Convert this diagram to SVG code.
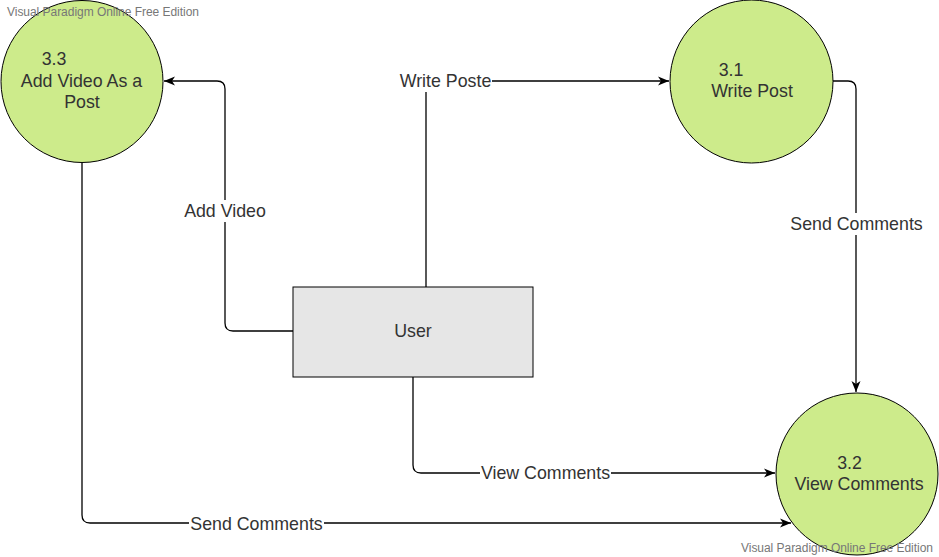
<svg xmlns="http://www.w3.org/2000/svg" width="939" height="557" viewBox="0 0 939 557">
<style>
.proc{fill:#cdeb8b;stroke:#000;stroke-width:1}
.ent{fill:#e6e6e6;stroke:#000;stroke-width:1}
.t{font-family:"Liberation Sans",Arial,sans-serif;font-size:17.8px;fill:#333;text-anchor:middle;dominant-baseline:central}
.wm{font-family:"Liberation Sans",Arial,sans-serif;font-size:12px;fill:#777;dominant-baseline:central}
.c{fill:none;stroke:#000;stroke-width:1.3}
.lb{fill:#fff}
</style>
<defs>
<marker id="arr" markerUnits="userSpaceOnUse" markerWidth="12" markerHeight="10" refX="11" refY="5" orient="auto">
<path d="M0,0.5 L11,5 L0,9.5 L3,5 Z" fill="#000"/>
</marker>
</defs>
<g id="connectors">
<path class="c" d="M293,331 H233 Q225,331 225,323 V89 Q225,81 217,81 H164" marker-end="url(#arr)"/>
<path class="c" d="M426,287 V81 H669" marker-end="url(#arr)"/>
<path class="c" d="M833,81 H848 Q856,81 856,89 V392" marker-end="url(#arr)"/>
<path class="c" d="M413,377 V465 Q413,473 421,473 H775" marker-end="url(#arr)"/>
<path class="c" d="M82,163 V515 Q82,523 90,523 H791" marker-end="url(#arr)"/>
<rect class="lb" x="182" y="200" width="85" height="22"/>
<text class="t" x="225" y="211">Add Video</text>
<rect class="lb" x="399" y="70" width="93" height="22"/>
<text class="t" x="445.5" y="81">Write Poste</text>
<rect class="lb" x="789" y="213" width="135" height="22"/>
<text class="t" x="856.5" y="224">Send Comments</text>
<rect class="lb" x="480" y="462" width="131" height="22"/>
<text class="t" x="545.5" y="473">View Comments</text>
<rect class="lb" x="189" y="513" width="135" height="22"/>
<text class="t" x="256.5" y="524">Send Comments</text>
</g>
<g id="p33">
<circle class="proc" cx="82" cy="81.5" r="81"/>
<text class="t" x="54" y="59">3.3</text>
<text class="t" x="81.5" y="81">Add Video As a</text>
<text class="t" x="82" y="102">Post</text>
</g>
<g id="p31">
<circle class="proc" cx="751.5" cy="81.5" r="81.5"/>
<text class="t" x="731" y="70">3.1</text>
<text class="t" x="752" y="91">Write Post</text>
</g>
<g id="p32">
<circle class="proc" cx="857" cy="474" r="81"/>
<text class="t" x="849.5" y="463">3.2</text>
<text class="t" x="859" y="484">View Comments</text>
</g>
<g id="user">
<rect class="ent" x="293" y="287" width="240" height="90"/>
<text class="t" x="413" y="331">User</text>
</g>
<g id="watermarks">
<text class="wm" x="7" y="12" textLength="192">Visual Paradigm Online Free Edition</text>
<text class="wm" x="741" y="548" textLength="192">Visual Paradigm Online Free Edition</text>
</g>
</svg>
